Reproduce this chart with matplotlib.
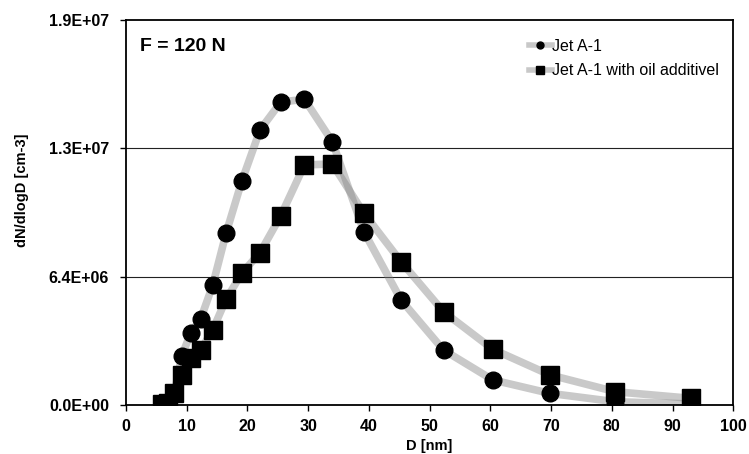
import numpy as np
import matplotlib
matplotlib.use('Agg')
import matplotlib.pyplot as plt
from matplotlib.lines import Line2D
from matplotlib.ticker import FormatStrFormatter, MultipleLocator

plt.rcParams['font.family'] = 'Liberation Sans'

# particle diameter bins [nm]
D = [6.0, 6.9, 8.0, 9.2, 10.7, 12.3, 14.3, 16.5, 19.1, 22.1,
     25.5, 29.4, 34.0, 39.2, 45.3, 52.3, 60.4, 69.8, 80.6, 93.1]
# dN/dlogD [cm-3]
jet_a1 = [0.03e6, 0.15e6, 6.0e5, 2.44e6, 3.6e6, 4.27e6, 5.97e6, 8.56e6, 1.117e7, 1.372e7,
          1.51e7, 1.525e7, 1.313e7, 8.64e6, 5.24e6, 2.74e6, 1.25e6, 5.8e5, 1.6e5, 5e4]
jet_a1_oil = [0.05e6, 0.1e6, 5.8e5, 1.5e6, 2.33e6, 2.74e6, 3.74e6, 5.27e6, 6.57e6, 7.6e6,
              9.43e6, 1.197e7, 1.202e7, 9.56e6, 7.15e6, 4.65e6, 2.78e6, 1.5e6, 6.6e5, 3.3e5]
labels = ['Jet A-1', 'Jet A-1 with oil additivel']

fig = plt.figure(figsize=(7.49, 4.54), dpi=100)
ax = fig.add_axes([0.168, 0.108, 0.811, 0.848])

line_kw = dict(color='#808080', alpha=0.42, lw=5.5, solid_joinstyle='round', zorder=2)
ax.plot(D, jet_a1, **line_kw)
ax.plot(D, jet_a1_oil, **line_kw)
ax.plot(D, jet_a1, 'o', color='black', ms=12, zorder=3)
ax.plot(D, jet_a1_oil, 's', color='black', ms=13, zorder=3)

ax.set_xlim(0, 100)
ax.set_ylim(0, 1.92e7)
ax.xaxis.set_major_locator(MultipleLocator(10))
ax.yaxis.set_major_locator(MultipleLocator(6.4e6))
ax.yaxis.set_major_formatter(FormatStrFormatter('%.1E'))
for y in [6.4e6, 1.28e7]:
    ax.axhline(y, color='#222222', lw=0.8, zorder=1)

for sp in ax.spines.values():
    sp.set_linewidth(1.3)
ax.tick_params(direction='out', length=4, width=1, labelsize=11.5)
ax.tick_params(axis='x', pad=6)
ax.tick_params(axis='y', pad=8)
for t in ax.get_xticklabels() + ax.get_yticklabels():
    t.set_fontweight('bold')

ax.set_xlabel('D [nm]', fontsize=10.5, fontweight='bold')
ax.xaxis.set_label_coords(0.5, -0.088)
ax.set_ylabel('dN/dlogD [cm-3]', fontsize=10.5, fontweight='bold')
ax.yaxis.set_label_coords(-0.16, 0.558)
ax.text(0.024, 0.93, 'F = 120 N', transform=ax.transAxes, fontsize=14,
        fontweight='bold', va='center')

handles = [Line2D([], [], color='#c8c8c8', lw=4, marker='o', ms=5, mfc='black', mec='black'),
           Line2D([], [], color='#c8c8c8', lw=4, marker='s', ms=6, mfc='black', mec='black')]
ax.legend(handles, labels, loc='upper left', bbox_to_anchor=(0.664, 0.951), frameon=False,
          fontsize=11.5, handlelength=1.4, handletextpad=0.0, labelspacing=0.6,
          borderpad=0, borderaxespad=0)

plt.savefig('out.png', dpi=100)
plt.close()
